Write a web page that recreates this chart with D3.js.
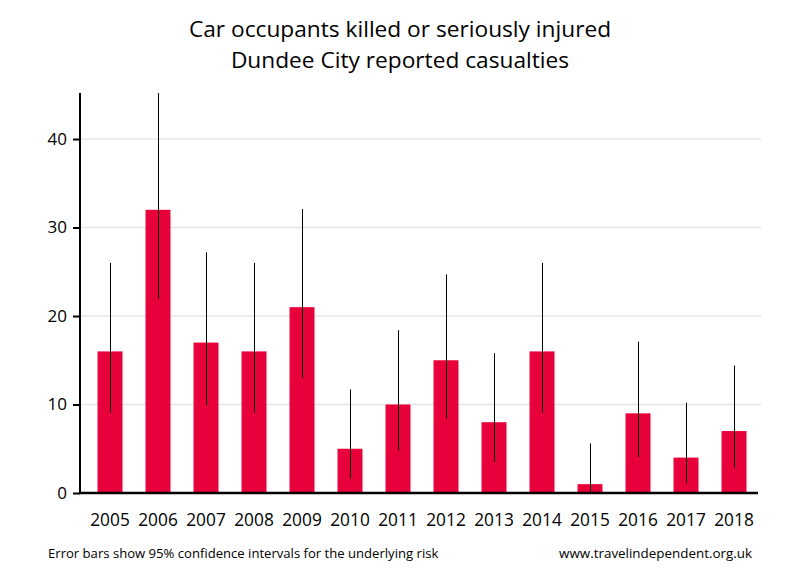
<!DOCTYPE html>
<html>
<head>
<meta charset="utf-8">
<script src="https://cdn.jsdelivr.net/npm/d3@7"></script>
<style>
  html, body { margin: 0; padding: 0; background: #fff; }
  svg { display: block; font-family: "Open Sans", sans-serif; }
</style>
</head>
<body>
<svg id="chart" width="800" height="580"></svg>
<script>
const years = ["2005","2006","2007","2008","2009","2010","2011","2012","2013","2014","2015","2016","2017","2018"];
const casualties = [16, 32, 17, 16, 21, 5, 10, 15, 8, 16, 1, 9, 4, 7];
const ciLower = [9.1, 21.9, 9.9, 9.1, 13.0, 1.6, 4.8, 8.4, 3.5, 9.1, 0.03, 4.1, 1.1, 2.8];
const ciUpper = [26.0, 45.2, 27.2, 26.0, 32.1, 11.7, 18.4, 24.7, 15.8, 26.0, 5.6, 17.1, 10.2, 14.4];
const yTicks = [0, 10, 20, 30, 40];
const titleLines = ["Car occupants killed or seriously injured", "Dundee City reported casualties"];
const footLeft = "Error bars show 95% confidence intervals for the underlying risk";
const footRight = "www.travelindependent.org.uk";

const svg = d3.select("#chart");
const x = d3.scaleBand().domain(years).range([86, 758]).paddingInner(0.48).paddingOuter(0.24);
const y = d3.scaleLinear().domain([0, 45.2]).range([493, 93]);

// gridlines
svg.append("g").selectAll("line").data(yTicks.filter(d => d > 0)).join("line")
  .attr("x1", 80).attr("x2", 761)
  .attr("y1", d => y(d)).attr("y2", d => y(d))
  .attr("stroke", "#e6e6e6").attr("stroke-width", 1.5);

// bars
svg.append("g").selectAll("rect").data(years).join("rect")
  .attr("x", d => x(d))
  .attr("width", x.bandwidth())
  .attr("y", (d, i) => y(casualties[i]))
  .attr("height", (d, i) => y(0) - y(casualties[i]))
  .attr("fill", "#e8003a");

// error bars
svg.append("g").selectAll("line").data(years).join("line")
  .attr("x1", d => Math.round(x(d) + x.bandwidth() / 2) + 0.5)
  .attr("x2", d => Math.round(x(d) + x.bandwidth() / 2) + 0.5)
  .attr("y1", (d, i) => y(ciLower[i]))
  .attr("y2", (d, i) => Math.max(y(ciUpper[i]), 93))
  .attr("stroke", "#000").attr("stroke-width", 1);

// y axis
const yAxis = d3.axisLeft(y).tickValues(yTicks).tickSize(7).tickPadding(6).tickSizeOuter(0);
const gy = svg.append("g").attr("transform", "translate(80,0)").call(yAxis);
gy.select(".domain").attr("stroke", "#000").attr("stroke-width", 2)
  .attr("d", `M0,${y(0)}V93`);
gy.selectAll(".tick line").attr("stroke", "#000").attr("stroke-width", 2);
gy.selectAll(".tick text").attr("font-size", 17).attr("fill", "#000")
  .attr("font-family", "Open Sans, sans-serif");

// x axis
const xAxis = d3.axisBottom(x).tickSize(0).tickPadding(21);
const gx = svg.append("g").attr("transform", `translate(0,${y(0)})`).call(xAxis);
gx.select(".domain").remove();
gx.append("line").attr("x1", 79).attr("x2", 758).attr("y1", 0).attr("y2", 0)
  .attr("stroke", "#000").attr("stroke-width", 2.5);
gx.selectAll(".tick text").attr("font-size", 17.3).attr("fill", "#000")
  .attr("font-family", "Open Sans, sans-serif");

// title
svg.append("g").selectAll("text").data(titleLines).join("text")
  .attr("x", 400).attr("y", (d, i) => 37 + i * 31)
  .attr("text-anchor", "middle").attr("font-size", 22.7).attr("fill", "#000")
  .text(d => d);

// footers
svg.append("text").attr("x", 48).attr("y", 558).attr("font-size", 13.1).attr("fill", "#000").text(footLeft);
svg.append("text").attr("x", 752).attr("y", 558).attr("text-anchor", "end").attr("font-size", 13.4).attr("fill", "#000").text(footRight);
</script>
</body>
</html>
